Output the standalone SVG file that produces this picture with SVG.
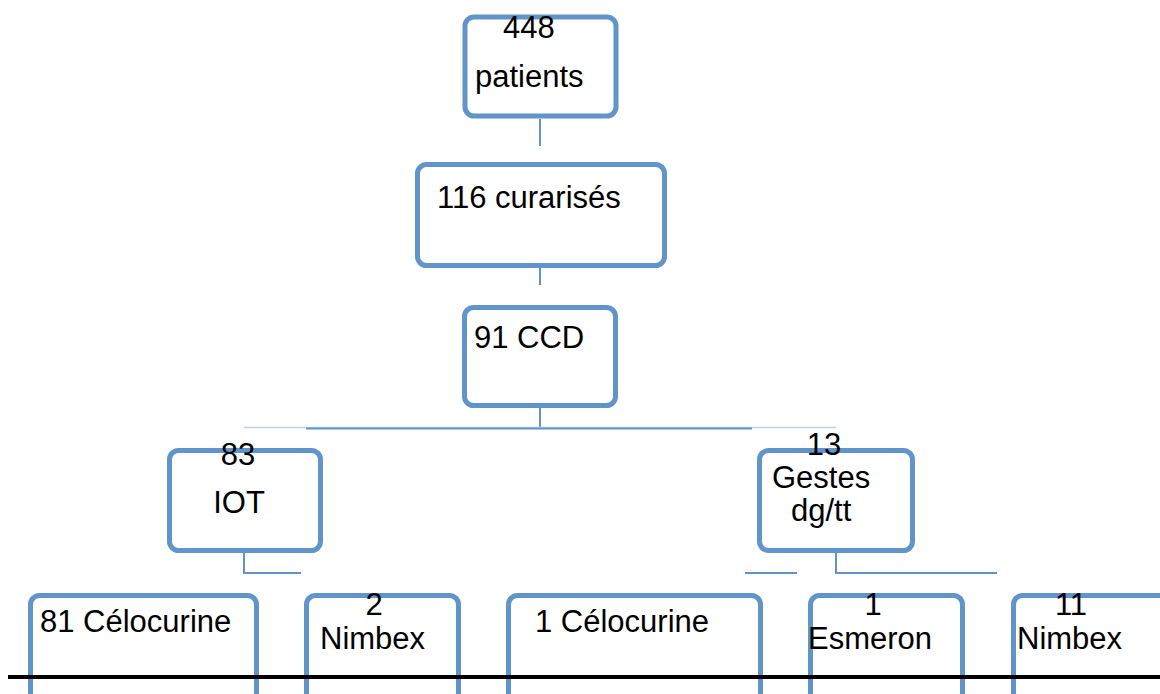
<svg xmlns="http://www.w3.org/2000/svg" width="1160" height="694" viewBox="0 0 1160 694">
<style>
.box{fill:#ffffff;stroke:#6194C8;stroke-width:5}
.t{font-family:"Liberation Sans",Arial,sans-serif;font-size:31px;fill:#000}
.c{stroke:#6194C8;stroke-width:2;fill:none}
.cl{stroke:#bfd2e9;stroke-width:1.5;fill:none}
</style>
<rect width="1160" height="694" fill="#ffffff"/>
<g id="connectors">
<line class="c" x1="540" y1="119" x2="540" y2="146"/>
<line class="c" x1="540" y1="268" x2="540" y2="285"/>
<line class="c" x1="540" y1="408" x2="540" y2="428"/>
<line class="cl" x1="244" y1="427.5" x2="836" y2="427.5"/>
<line class="c" x1="306" y1="428.5" x2="752" y2="428.5"/>
<polyline class="c" points="244,553 244,573 301,573"/>
<line class="c" x1="745" y1="573" x2="797" y2="573"/>
<polyline class="c" points="836,553 836,573 997,573"/>
</g>
<g id="n448"><rect class="box" x="465" y="17" width="151" height="99" rx="9"/><text class="t" x="503" y="38">448</text><text class="t" x="475" y="87">patients</text></g>
<g id="n116"><rect class="box" x="417.5" y="164.5" width="247" height="101" rx="9"/><text class="t" x="437" y="208">116 curarisés</text></g>
<g id="n91"><rect class="box" x="464.5" y="307.5" width="151" height="98" rx="9"/><text class="t" x="474" y="348">91 CCD</text></g>
<g id="n83"><rect class="box" x="169.5" y="450.5" width="151" height="100" rx="9"/><text class="t" x="238" y="465" text-anchor="middle">83</text><text class="t" x="239" y="513" text-anchor="middle">IOT</text></g>
<g id="n13"><rect class="box" x="759.5" y="450.5" width="153" height="100" rx="9"/><text class="t" x="824" y="455" text-anchor="middle">13</text><text class="t" x="772" y="488">Gestes</text><text class="t" x="791" y="521">dg/tt</text></g>
<g id="n81"><rect class="box" x="30.5" y="595.5" width="226" height="120" rx="9"/><text class="t" x="40" y="632">81 Célocurine</text></g>
<g id="n2"><rect class="box" x="306.5" y="595.5" width="152" height="120" rx="9"/><text class="t" x="374" y="615" text-anchor="middle">2</text><text class="t" x="320" y="649">Nimbex</text></g>
<g id="n1c"><rect class="box" x="508.5" y="595.5" width="252" height="120" rx="9"/><text class="t" x="535" y="632">1 Célocurine</text></g>
<g id="n1e"><rect class="box" x="810.5" y="595.5" width="152" height="120" rx="9"/><text class="t" x="873" y="615" text-anchor="middle">1</text><text class="t" x="808" y="649">Esmeron</text></g>
<g id="n11"><rect class="box" x="1013.5" y="595.5" width="200" height="120" rx="9"/><text class="t" x="1071" y="615" text-anchor="middle">11</text><text class="t" x="1017" y="649">Nimbex</text></g>
<line x1="8" y1="677" x2="1160" y2="677" stroke="#000" stroke-width="4"/>
</svg>
